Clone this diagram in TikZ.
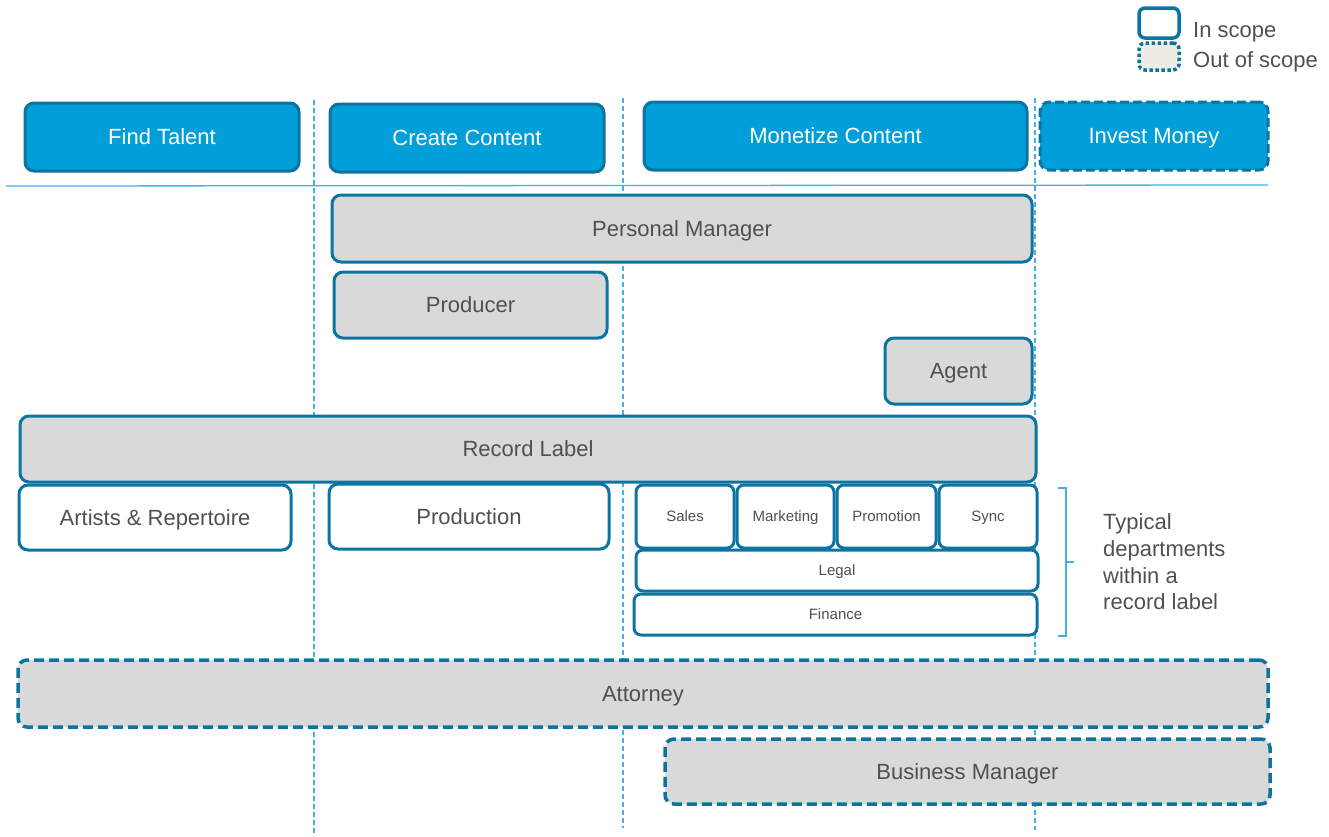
\documentclass[tikz,border=0pt]{standalone}
\usepackage{fontspec}
\setmainfont{Liberation Sans}

\definecolor{hdrfill}{HTML}{009FDA}
\definecolor{edge}{HTML}{0C74A1}
\definecolor{guide}{HTML}{3FB3E6}
\definecolor{boxgray}{HTML}{D9D9D9}
\definecolor{outfill}{HTML}{EEEDE5}
\definecolor{txt}{HTML}{505050}

\tikzset{
  base/.style={rectangle, rounded corners=9pt, line width=3pt, draw=edge, inner sep=0pt,
    text=txt, font=\fontsize{22}{26}\selectfont, text height=15.8pt, text depth=0pt},
  hdr/.style={base, fill=hdrfill, text=white},
  hdrout/.style={hdr, dash pattern=on 9pt off 4pt},
  gbox/.style={base, fill=boxgray},
  gout/.style={gbox, line width=3.5pt, dash pattern=on 10pt off 5pt},
  wbox/.style={base, fill=white},
  dept/.style={base, fill=white, rounded corners=7pt, font=\fontsize{15}{18}\selectfont,
    text height=10.8pt},
  sz/.style 2 args={minimum width=#1pt, minimum height=#2pt},
  guideline/.style={draw=guide, line width=1.2pt, dash pattern=on 5pt off 3pt},
  legtxt/.style={anchor=base west, inner sep=0pt, text=txt, font=\fontsize{22}{26}\selectfont}
}

\begin{document}
\begin{tikzpicture}[x=1pt, y=-1pt]
  \useasboundingbox (0,0) rectangle (1329,836);

  % column guides
  \coordinate (g1t) at (314,100);  \coordinate (g1b) at (314,836);
  \coordinate (g2t) at (623,98);   \coordinate (g2b) at (623,828);
  \coordinate (g3t) at (1035,98);  \coordinate (g3b) at (1035,830);
  \draw[guideline] (g1t) -- (g1b);
  \draw[guideline] (g2t) -- (g2b);
  \draw[guideline] (g3t) -- (g3b);

  % separator under the phase headers
  \coordinate (sepl) at (6,186);
  \coordinate (sepr) at (1268,185);
  \draw[draw=guide, line width=1.3pt] (sepl) -- (sepr);

  % legend
  \node[base, fill=white, line width=3.5pt, rounded corners=6pt, sz={40}{30}] (legin) at (1159,23) {};
  \node[base, fill=outfill, line width=3.5pt, rounded corners=6pt,
        dash pattern=on 3.5pt off 2.5pt, sz={40}{27}] (legout) at (1159,56.5) {};
  \node[legtxt] (legintxt) at (1193,37) {In scope};
  \node[legtxt] (legouttxt) at (1193,67) {Out of scope};

  % phase headers
  \node[hdr, sz={274}{68}] (find) at (162,137) {Find Talent};
  \node[hdr, sz={274}{68}] (create) at (467,138) {Create Content};
  \node[hdr, sz={383}{68}] (monetize) at (835.5,136) {Monetize Content};
  \node[hdrout, sz={228}{68}] (invest) at (1154,136) {Invest Money};

  % roles
  \node[gbox, sz={700}{67}] (pm) at (682,228.5) {Personal Manager};
  \node[gbox, sz={273}{66}] (producer) at (470.5,305) {Producer};
  \node[gbox, sz={147}{66}] (agent) at (958.5,371) {Agent};
  \node[gbox, sz={1016}{66}] (label) at (528,449) {Record Label};

  % record label departments
  \node[wbox, sz={272}{65}] (ar) at (155,517.5) {Artists \& Repertoire};
  \node[wbox, sz={280}{65}] (production) at (469,516.5) {Production};
  \node[dept, sz={98}{63}] (sales) at (685,516.5) {Sales};
  \node[dept, sz={97}{63}] (marketing) at (785.5,516.5) {Marketing};
  \node[dept, sz={99}{63}] (promotion) at (886.5,516.5) {Promotion};
  \node[dept, sz={98}{63}] (sync) at (988,516.5) {Sync};
  \node[dept, sz={402}{41}] (legal) at (837,570.5) {Legal};
  \node[dept, sz={403}{41}] (finance) at (835.5,614.5) {Finance};

  % brace grouping the departments
  \coordinate (brt) at (1058,488);
  \coordinate (brb) at (1058,636);
  \draw[draw=guide, line width=1.3pt] (brt) -- (1066,488) -- (1066,636) -- (brb);
  \draw[draw=guide, line width=1.3pt] (1066,562) -- (1074,562);
  \node[anchor=west, align=left, inner sep=0pt, text=txt,
        font=\fontsize{22}{26.7}\selectfont] (deptnote) at (1103,562)
        {Typical\\departments\\within a\\record label};

  % advisers
  \node[gout, sz={1250}{67}] (attorney) at (643,693.5) {Attorney};
  \node[gout, sz={605}{65}] (bizmgr) at (967.5,771.5) {Business Manager};
\end{tikzpicture}
\end{document}
